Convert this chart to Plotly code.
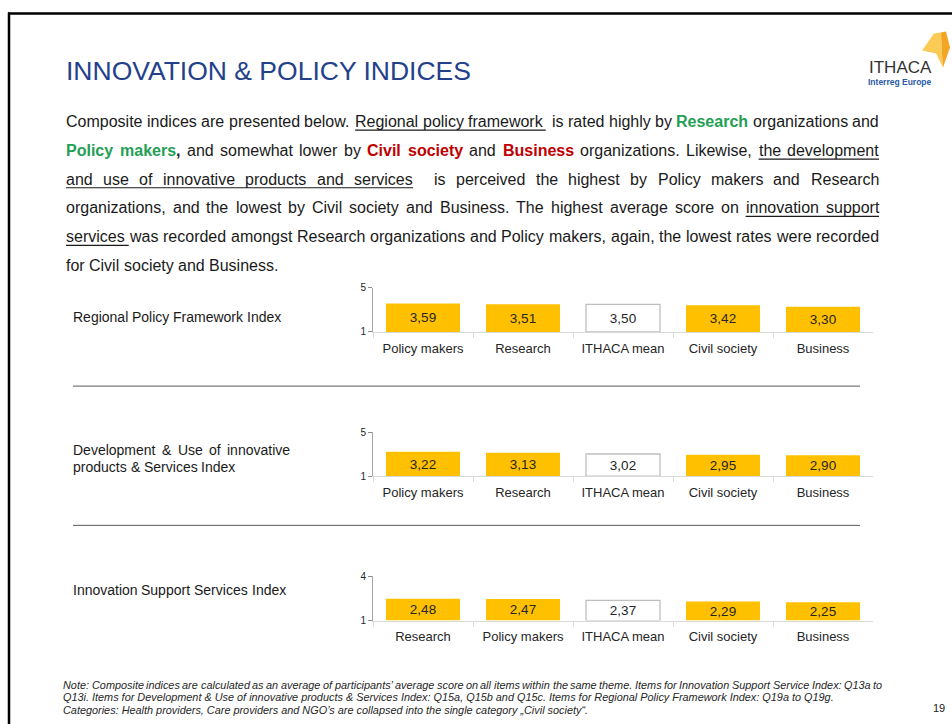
import plotly.graph_objects as go

W, H = 952, 724

# ---------------- data ----------------
cats_rpf = ["Policy makers", "Research", "ITHACA mean", "Civil society", "Business"]
vals_rpf = [3.59, 3.51, 3.50, 3.42, 3.30]
cats_dev = ["Policy makers", "Research", "ITHACA mean", "Civil society", "Business"]
vals_dev = [3.22, 3.13, 3.02, 2.95, 2.90]
cats_iss = ["Research", "Policy makers", "ITHACA mean", "Civil society", "Business"]
vals_iss = [2.48, 2.47, 2.37, 2.29, 2.25]
ticks_rpf = [1, 5]
ticks_dev = [1, 5]
ticks_iss = [1, 4]
index_labels = ["Regional Policy Framework Index",
                "Development & Use of innovative",
                "products & Services Index",
                "Innovation Support Services Index"]
title_text = "INNOVATION & POLICY INDICES"
note_lines = [
    "Note: Composite indices are calculated as an average of participants’ average score on all items within the same theme. Items for Innovation Support Service Index: Q13a to",
    "Q13i. Items for Development & Use of innovative products & Services Index: Q15a, Q15b and Q15c. Items for Regional Policy Framework Index: Q19a to Q19g.",
    "Categories: Health providers, Care providers and NGO’s are collapsed into the single category „Civil society“.",
]
page_no = "19"

# ---------------- styling ----------------
FONT = "Liberation Sans, Arial, Helvetica, sans-serif"
YELLOW = "#FFC000"
MEAN_FILL = "#FFFFFF"
MEAN_LINE = "#BFBFBF"
TXT = "#1a1a1a"
GREEN = "#1FA055"
RED = "#C00000"
TITLE_BLUE = "#23418A"

# vertical calibration of the photographed page
VA, VB = 5.6, 0.983


def X(px):
    return px / W


def Y(py):
    return 1 - ((py - VA) / VB) / H


REG = {' ': 278, ',': 278, '.': 278, ':': 278, ';': 278, '&': 667, "'": 191, '’': 222, '„': 333, '“': 333,
       '(': 333, ')': 333, '-': 333,
       'A': 667, 'B': 667, 'C': 722, 'D': 722, 'E': 667, 'F': 611, 'G': 778, 'H': 722, 'I': 278, 'J': 500,
       'K': 667, 'L': 556, 'M': 833, 'N': 722, 'O': 778, 'P': 667, 'Q': 778, 'R': 722, 'S': 667, 'T': 611,
       'U': 722, 'V': 667, 'W': 944, 'X': 667, 'Y': 667, 'Z': 611,
       'a': 556, 'b': 556, 'c': 500, 'd': 556, 'e': 556, 'f': 278, 'g': 556, 'h': 556, 'i': 222, 'j': 222,
       'k': 500, 'l': 222, 'm': 833, 'n': 556, 'o': 556, 'p': 556, 'q': 556, 'r': 333, 's': 500, 't': 278,
       'u': 556, 'v': 500, 'w': 722, 'x': 500, 'y': 500, 'z': 500}
for d in "0123456789":
    REG[d] = 556
BOLD = dict(REG)
BOLD.update({'a': 556, 'b': 611, 'c': 556, 'd': 611, 'e': 556, 'f': 333, 'g': 611, 'h': 611, 'i': 278,
             'j': 278, 'k': 556, 'l': 278, 'm': 889, 'n': 611, 'o': 611, 'p': 611, 'q': 611, 'r': 389,
             's': 556, 't': 333, 'u': 611, 'v': 556, 'w': 778, 'x': 556, 'y': 556, 'z': 500,
             'A': 722, 'B': 722, 'C': 722, 'D': 722, 'P': 667, 'R': 722})


def tw(s, size, bold=False):
    t = BOLD if bold else REG
    return sum(t.get(c, 556) for c in s) / 1000 * size


def plain(s, style='n'):
    return [[(w, style)] for w in s.split(' ')]


def fmt(t, s, italic=False):
    if s == 'g':
        out = f"<b><span style='color:{GREEN}'>{t}</span></b>"
    elif s == 'r':
        out = f"<b><span style='color:{RED}'>{t}</span></b>"
    elif s == 'b':
        out = f"<b>{t}</b>"
    else:
        out = t
    return f"<i>{out}</i>" if italic else out


annotations = []
shapes = []


def word_width(word, size):
    return sum(tw(t, size, s in ('g', 'r', 'b')) for t, s in word)


def place_line(words, x0, x1, yc, size, justify=True, italic=False, color=TXT, ul_extra=0.0, ul_dy=8.5):
    widths = [word_width(w, size) for w in words]
    space = tw(' ', size)
    if justify and len(words) > 1:
        gap = (x1 - x0 - sum(widths)) / (len(words) - 1)
    else:
        gap = space
    x = x0
    ul = []
    for w, wd in zip(words, widths):
        txt = ''.join(fmt(t, s, italic) for t, s in w)
        if txt:
            annotations.append(dict(x=X(x), y=Y(yc), xref='paper', yref='paper', text=txt, showarrow=False,
                                    xanchor='left', yanchor='middle', borderpad=0, xshift=-1,
                                    font=dict(family=FONT, size=size, color=color)))
        if any(s == 'u' for t, s in w):
            ul.append((x, x + wd))
        x += wd + gap
    if ul:
        shapes.append(dict(type='line', xref='paper', yref='paper',
                           x0=X(ul[0][0]), x1=X(ul[-1][1] + ul_extra),
                           y0=Y(yc + ul_dy), y1=Y(yc + ul_dy), line=dict(color=TXT, width=1.2)))


# ---------------- body paragraph ----------------
BODY = 16
L1 = plain("Composite indices are presented below.") + plain("Regional policy framework", 'u') + [[("", 'n')]] + \
    plain("is rated highly by") + plain("Research", 'g') + plain("organizations and")
L2 = plain("Policy", 'g') + [[("makers", 'g'), (",", 'b')]] + plain("and somewhat lower by") + \
    plain("Civil society", 'r') + plain("and") + plain("Business", 'r') + plain("organizations. Likewise,") + \
    plain("the development", 'u')
L3 = plain("and use of innovative products and services", 'u') + [[("", 'n')]] + \
    plain("is perceived the highest by Policy makers and Research")
L4 = plain("organizations, and the lowest by Civil society and Business. The highest average score on") + \
    plain("innovation support", 'u')
L5 = plain("services", 'u') + \
    plain("was recorded amongst Research organizations and Policy makers, again, the lowest rates were recorded")
L6 = plain("for Civil society and Business.")
body_y = [121, 150, 178.5, 207, 236, 265]
place_line(L1, 66, 879, body_y[0], BODY, ul_extra=3)
place_line(L2, 66, 879, body_y[1], BODY)
place_line(L3, 66, 879, body_y[2], BODY)
place_line(L4, 66, 879, body_y[3], BODY)
place_line(L5, 66, 879, body_y[4], BODY, ul_extra=4)
place_line(L6, 66, 879, body_y[5], BODY, justify=False)

# ---------------- title ----------------
annotations.append(dict(x=X(65), y=Y(70), xref='paper', yref='paper', text=title_text, showarrow=False,
                        xanchor='left', yanchor='middle', borderpad=0,
                        font=dict(family=FONT, size=26.5, color=TITLE_BLUE)))

# ---------------- logo ----------------
def path(pts):
    return "M " + " L ".join(f"{X(x):.5f},{Y(y):.5f}" for x, y in pts) + " Z"


shapes.append(dict(type='path', xref='paper', yref='paper',
                   path=path([(922, 50), (934, 33), (941, 32), (942, 54), (943, 67), (936, 53)]),
                   fillcolor="#FCCB55", line=dict(width=0)))
shapes.append(dict(type='path', xref='paper', yref='paper',
                   path=path([(941, 32), (946, 31), (950, 47), (943, 67), (942, 54)]),
                   fillcolor="#F5A524", line=dict(width=0)))
annotations.append(dict(x=X(900), y=Y(67), xref='paper', yref='paper', text="ITHACA", showarrow=False,
                        xanchor='center', yanchor='middle', borderpad=0,
                        font=dict(family=FONT, size=17, color="#333333")))
annotations.append(dict(x=X(900), y=Y(81), xref='paper', yref='paper', text="<b>Interreg Europe</b>",
                        showarrow=False, xanchor='center', yanchor='middle', borderpad=0,
                        font=dict(family=FONT, size=8.5, color="#2A5AA8")))

# ---------------- slide frame ----------------
shapes.append(dict(type='line', xref='paper', yref='paper', x0=X(9), x1=X(9), y0=Y(12), y1=Y(740),
                   line=dict(color='black', width=2.5)))
shapes.append(dict(type='line', xref='paper', yref='paper', x0=X(8), x1=X(960), y0=Y(13), y1=Y(13),
                   line=dict(color='black', width=2.5)))

# ---------------- separators ----------------
for sy in (385, 524):
    shapes.append(dict(type='line', xref='paper', yref='paper', x0=X(73), x1=X(860), y0=Y(sy), y1=Y(sy),
                       line=dict(color='#595959', width=1)))

# ---------------- row labels ----------------
LBL = 14
place_line(plain(index_labels[0]), 73, 300, 316, LBL, justify=False)
place_line(plain(index_labels[1]), 73, 290, 449, LBL, justify=True)
place_line(plain(index_labels[2]), 73, 290, 466, LBL, justify=False)
place_line(plain(index_labels[3]), 73, 300, 589, LBL, justify=False)

# ---------------- note ----------------
NOTE = round(772 / (tw(note_lines[1], 1000) / 1000), 2)
note_words = [[(w, 'n')] for w in note_lines[0].split(' ')]
place_line(note_words, 63, 882, 683, NOTE, justify=True, italic=True, color="#262626")
for txt, yy in ((note_lines[1], 695.5), (note_lines[2], 708)):
    annotations.append(dict(x=X(63), y=Y(yy), xref='paper', yref='paper', text=f"<i>{txt}</i>",
                            showarrow=False, xanchor='left', yanchor='middle', borderpad=0, xshift=-1,
                            font=dict(family=FONT, size=NOTE, color="#262626")))
annotations.append(dict(x=X(946), y=Y(706), xref='paper', yref='paper', text=page_no, showarrow=False,
                        xanchor='right', yanchor='middle', borderpad=0,
                        font=dict(family=FONT, size=11, color="#1a1a1a")))

# ---------------- charts ----------------
fig = go.Figure()
charts = [(cats_rpf, vals_rpf, ticks_rpf, (287, 331)),
          (cats_dev, vals_dev, ticks_dev, (431, 475)),
          (cats_iss, vals_iss, ticks_iss, (575, 619))]
layout_axes = {}
for i, (cats, vals, tks, (top, bot)) in enumerate(charts):
    n = '' if i == 0 else str(i + 1)
    is_mean = [c == "ITHACA mean" for c in cats]
    fig.add_trace(go.Bar(
        x=cats, y=[v - tks[0] for v in vals], base=tks[0],
        text=[f"{v:.2f}".replace('.', ',') for v in vals],
        textposition='inside', insidetextanchor='middle', textangle=0,
        textfont=dict(family=FONT, size=13.5, color="#262626"),
        marker=dict(color=[MEAN_FILL if m else YELLOW for m in is_mean],
                    line=dict(color=[MEAN_LINE if m else YELLOW for m in is_mean],
                              width=[1.3 if m else 0 for m in is_mean])),
        width=0.74, xaxis='x' + n, yaxis='y' + n, hoverinfo='x+text'))
    layout_axes['xaxis' + n] = dict(domain=[X(373), X(873)], anchor='y' + n, type='category',
                                    categoryorder='array', categoryarray=cats,
                                    showline=True, linecolor='#D9D9D9', linewidth=1,
                                    ticks='outside', tickson='boundaries', ticklen=5, tickcolor='#D9D9D9',
                                    ticklabelstandoff=4,
                                    tickfont=dict(family=FONT, size=13, color='#262626'),
                                    showgrid=False, zeroline=False, fixedrange=True)
    layout_axes['yaxis' + n] = dict(domain=[Y(bot), Y(top)], anchor='x' + n, range=[tks[0], tks[1]],
                                    tickvals=tks, ticks='outside', ticklen=4, tickcolor='#8C8C8C',
                                    showline=True, linecolor='#A6A6A6', linewidth=1,
                                    showgrid=False, zeroline=False, fixedrange=True,
                                    tickfont=dict(family=FONT, size=10, color='#262626'))

fig.update_layout(
    width=W, height=H, margin=dict(l=0, r=0, t=0, b=0),
    paper_bgcolor='white', plot_bgcolor='white', showlegend=False,
    bargap=0.26, uniformtext=dict(minsize=13.5, mode='show'),
    annotations=annotations, shapes=shapes, **layout_axes)

# remove the default 8px page margin so the 952x724 figure fills the window exactly
fig.write_html("out.html", config={'displayModeBar': False},
               post_script="document.body.style.margin='0px';document.body.style.overflow='hidden';")
